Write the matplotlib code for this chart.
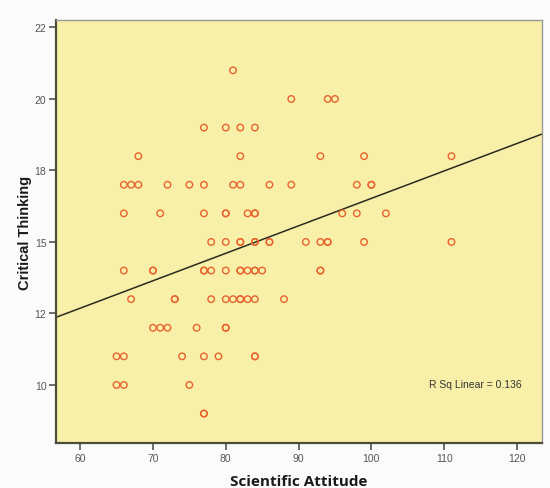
import numpy as np
import matplotlib
matplotlib.use("Agg")
import matplotlib.pyplot as plt

# Data: (critical thinking level -> list of scientific attitude scores)
rows = {
    21: [81],
    20: [89, 94, 95],
    19: [77, 80, 82, 84],
    18: [68, 82, 93, 99, 111],
    17: [66, 67, 68, 72, 75, 77, 81, 82, 86, 89, 98, 100, 100],
    16: [66, 71, 77, 80, 80, 83, 84, 84, 96, 98, 102],
    15: [78, 80, 82, 82, 84, 84, 86, 86, 91, 93, 94, 94, 99, 111],
    14: [66, 70, 70, 77, 77, 78, 80, 82, 82, 83, 84, 84, 85, 93, 93],
    13: [67, 73, 73, 78, 80, 81, 82, 82, 83, 84, 88],
    12: [70, 71, 72, 76, 80, 80],
    11: [65, 66, 74, 77, 79, 84, 84],
    10: [65, 66, 75],
    9: [77, 77],
}
scientific_attitude = np.array([x for y, xs in rows.items() for x in xs], dtype=float)
critical_thinking = np.array([y for y, xs in rows.items() for x in xs], dtype=float)

x_ticks = [60, 70, 80, 90, 100, 110, 120]
y_ticks = [10, 12.5, 15, 17.5, 20, 22.5]
y_tick_labels = ["10", "12", "15", "18", "20", "22"]
r_sq_text = "R Sq Linear = 0.136"

fig = plt.figure(figsize=(5.5, 4.89), dpi=100)
fig.patch.set_facecolor("#fbfbfb")
ax = fig.add_axes([0.102, 0.092, 0.883, 0.865])
ax.set_facecolor("#f8f0a9")

ax.scatter(scientific_attitude, critical_thinking, s=22, facecolors="none",
           edgecolors="#e8632e", linewidths=1.0, zorder=3)

xlim = (56.7, 123.4)
slope, intercept = np.polyfit(scientific_attitude, critical_thinking, 1)
xs = np.array(xlim)
ax.plot(xs, slope * xs + intercept, color="#2b2b1e", lw=1.1, zorder=2)

ax.set_xlim(*xlim)
ax.set_ylim(7.97, 22.76)
ax.set_xticks(x_ticks)
ax.set_xticklabels([str(t) for t in x_ticks])
ax.set_yticks(y_ticks)
ax.set_yticklabels(y_tick_labels)
ax.tick_params(axis="both", direction="out", length=5, width=1.2, color="#555555",
               labelsize=7.5, labelcolor="#555555", pad=2)
for lab in ax.get_xticklabels() + ax.get_yticklabels():
    lab.set_family("Liberation Sans")

for side in ["left", "bottom"]:
    ax.spines[side].set_color("#4d4d3a")
    ax.spines[side].set_linewidth(1.6)
for side in ["top", "right"]:
    ax.spines[side].set_color("#9a9a9a")
    ax.spines[side].set_linewidth(1.0)

ax.set_xlabel("Scientific Attitude", fontsize=11, fontweight="bold",
              family="Open Sans", color="#1a1a1a", labelpad=8)
ax.set_ylabel("Critical Thinking", fontsize=10.5, fontweight="bold",
              family="Liberation Sans", color="#1a1a1a", labelpad=2)

ax.text(120.6, 10.05, r_sq_text, ha="right", va="center", fontsize=7.5,
        family="Liberation Sans", color="#333333")

fig.savefig("out.png", dpi=100, facecolor=fig.get_facecolor())
